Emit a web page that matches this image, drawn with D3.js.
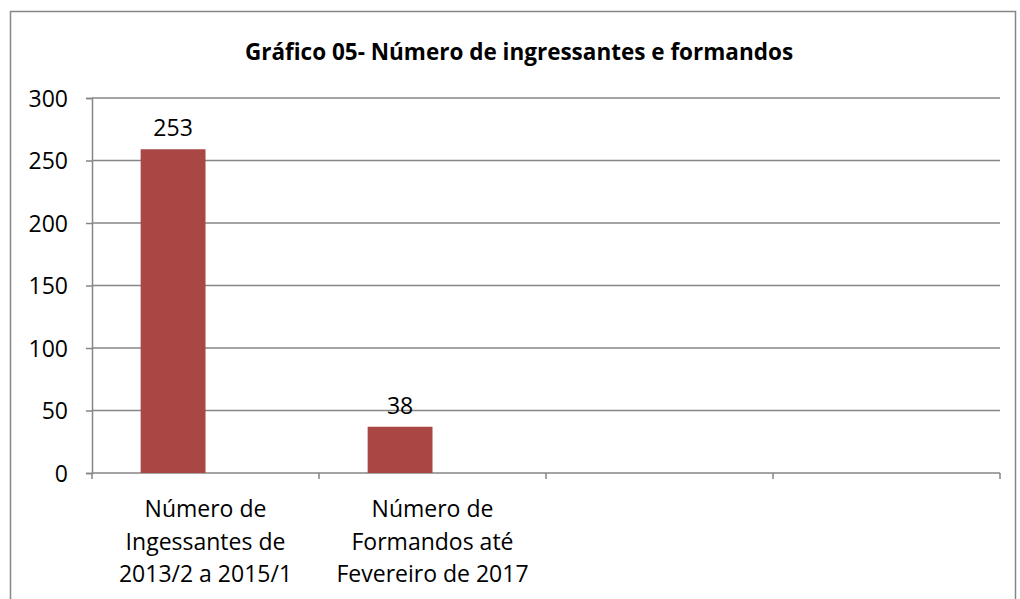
<!DOCTYPE html>
<html>
<head>
<meta charset="utf-8">
<script src="https://cdn.jsdelivr.net/npm/d3@7"></script>
<style>
  body { margin: 0; background: #fff; }
  text { font-family: "Open Sans", sans-serif; fill: #000; }
</style>
</head>
<body>
<div class="chart"></div>
<script>
// Chart data
const categories = ['cat1', 'cat2', 'cat3', 'cat4'];
const categoryLabels = [
  ['Número de', 'Ingessantes de', '2013/2 a 2015/1'],
  ['Número de', 'Formandos até', 'Fevereiro de 2017'],
  [],
  [],
];
const series = ['s1', 's2']; // second series is empty in the source
const barValues = [259, 37, null, null]; // bar heights as drawn
const dataLabels = ['253', '38', '', ''];
const yTicks = [0, 50, 100, 150, 200, 250, 300];
const title = 'Gráfico 05- Número de ingressantes e formandos';

// SVG dimensions
const width = 1020;
const height = 599;
const margin = { top: 98, right: 20, bottom: 126, left: 92 };

const svg = d3
  .select('.chart')
  .append('svg')
  .attr('width', width)
  .attr('height', height);

// Outer frame
svg.append('rect')
  .attr('x', 10.5)
  .attr('y', 11.5)
  .attr('width', 1005)
  .attr('height', 600)
  .attr('fill', 'none')
  .attr('stroke', '#868686')
  .attr('stroke-width', 1.5);

// Title
svg.append('text')
  .attr('x', 519)
  .attr('y', 60)
  .attr('text-anchor', 'middle')
  .style('font-weight', 'bold')
  .style('font-size', '22.5px')
  .text(title);

// Scales
const x = d3.scaleBand()
  .domain(categories)
  .range([margin.left, width - margin.right]);

const xSub = d3.scaleBand()
  .domain(series)
  .range([0, x.bandwidth()])
  .paddingOuter(0.75);

const y = d3.scaleLinear()
  .domain([0, 300])
  .range([height - margin.bottom, margin.top]);

// Gridlines
svg.append('g')
  .selectAll('line')
  .data(yTicks.filter(d => d > 0))
  .enter()
  .append('line')
  .attr('x1', margin.left)
  .attr('x2', width - margin.right)
  .attr('y1', d => y(d))
  .attr('y2', d => y(d))
  .attr('stroke', '#868686')
  .attr('stroke-width', 1.5);

// Y axis
const yAxis = svg.append('g')
  .attr('transform', `translate(${margin.left},0)`)
  .call(d3.axisLeft(y).tickValues(yTicks).tickSize(6).tickPadding(18));

yAxis.select('.domain').attr('stroke', '#868686').attr('stroke-width', 1.5);
yAxis.selectAll('.tick line').attr('stroke', '#868686').attr('stroke-width', 1.5);
yAxis.selectAll('.tick text')
  .style('font-size', '23px')
  .attr('dy', '0.36em');

// X axis line with boundary ticks
const xAxis = svg.append('g');
xAxis.append('line')
  .attr('x1', margin.left)
  .attr('x2', width - margin.right)
  .attr('y1', y(0))
  .attr('y2', y(0))
  .attr('stroke', '#868686')
  .attr('stroke-width', 1.5);

const boundaries = categories.map(c => x(c)).concat([x(categories[categories.length - 1]) + x.bandwidth()]);
xAxis.selectAll('line.tick')
  .data(boundaries)
  .enter()
  .append('line')
  .attr('class', 'tick')
  .attr('x1', d => d)
  .attr('x2', d => d)
  .attr('y1', y(0))
  .attr('y2', y(0) + 6)
  .attr('stroke', '#868686')
  .attr('stroke-width', 1.5);

// Category labels
xAxis.selectAll('text.cat')
  .data(categories)
  .enter()
  .append('text')
  .attr('class', 'cat')
  .attr('text-anchor', 'middle')
  .style('font-size', '23px')
  .each(function (d, i) {
    d3.select(this)
      .selectAll('tspan')
      .data(categoryLabels[i])
      .enter()
      .append('tspan')
      .attr('x', x(d) + x.bandwidth() / 2)
      .attr('y', (t, j) => y(0) + 44 + j * 32.5)
      .text(t => t);
  });

// Bars (first series only)
const barData = categories
  .map((c, i) => ({ cat: c, value: barValues[i], label: dataLabels[i] }))
  .filter(d => d.value != null);

svg.selectAll('rect.bar')
  .data(barData)
  .enter()
  .append('rect')
  .attr('class', 'bar')
  .attr('x', d => x(d.cat) + xSub('s1'))
  .attr('width', xSub.bandwidth())
  .attr('y', d => y(d.value))
  .attr('height', d => y(0) - y(d.value))
  .attr('fill', '#a94744');

// Data labels
svg.selectAll('text.label')
  .data(barData)
  .enter()
  .append('text')
  .attr('class', 'label')
  .attr('text-anchor', 'middle')
  .attr('x', d => x(d.cat) + xSub('s1') + xSub.bandwidth() / 2)
  .attr('y', d => y(d.value) - 13)
  .style('font-size', '23px')
  .text(d => d.label);
</script>
</body>
</html>
